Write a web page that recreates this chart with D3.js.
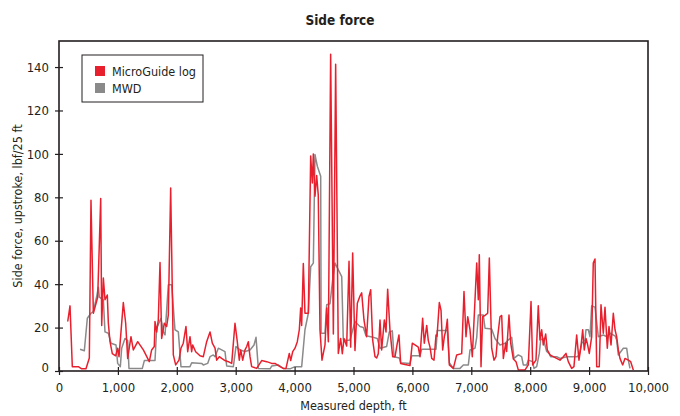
<!DOCTYPE html>
<html>
<head>
<meta charset="utf-8">
<script src="https://cdn.jsdelivr.net/npm/d3@7"></script>
<style>
  body { margin: 0; background: #fff; }
  svg { display: block; }
  text { font-family: "Liberation Sans Narrow", "DejaVu Sans Condensed", sans-serif; fill: #231f20; }
</style>
</head>
<body>
<svg id="chart"></svg>
<script>
// MicroGuide log (red): depth ft, side force lbf/25 ft
const logDepth = [148, 187, 226, 328, 385, 458, 515, 543, 583, 657, 708, 725, 753, 781, 820, 838, 866, 905, 962, 996,
  1019, 1092, 1132, 1166, 1222, 1262, 1336, 1432, 1533, 1573, 1618, 1630, 1658, 1686, 1715, 1743, 1788, 1828, 1856, 1896,
  1941, 1981, 2037, 2071, 2110, 2156, 2185, 2224, 2252, 2270, 2320, 2394, 2450, 2507, 2564, 2603, 2649, 2677, 2722, 2762,
  2818, 2875, 2932, 2988, 3027, 3061, 3085, 3119, 3158, 3187, 3214, 3243, 3271, 3356, 3441, 3526, 3611, 3667, 3752, 3808,
  3854, 3910, 3934, 3968, 4007, 4046, 4080, 4103, 4120, 4148, 4176, 4233, 4273, 4301, 4318, 4346, 4375, 4402, 4431, 4465,
  4516, 4545, 4573, 4612, 4658, 4697, 4742, 4782, 4810, 4839, 4884, 4924, 4952, 4986, 5025, 5065, 5110, 5139, 5178, 5223,
  5263, 5292, 5325, 5365, 5393, 5421, 5450, 5478, 5523, 5552, 5580, 5620, 5665, 5705, 5744, 5772, 5801, 5874, 5959, 5998,
  6044, 6100, 6129, 6174, 6202, 6243, 6270, 6299, 6328, 6367, 6401, 6418, 6457, 6486, 6514, 6542, 6570, 6593, 6627, 6695,
  6752, 6837, 6876, 6910, 6939, 6978, 7017, 7063, 7092, 7119, 7136, 7165, 7193, 7233, 7278, 7306, 7346, 7385, 7419, 7448,
  7487, 7516, 7544, 7584, 7600, 7640, 7669, 7714, 7759, 7798, 7912, 7968, 8014, 8042, 8098, 8137, 8166, 8195, 8222, 8263,
  8290, 8336, 8392, 8449, 8506, 8562, 8608, 8647, 8704, 8743, 8789, 8828, 8862, 8891, 8918, 8947, 8969, 9003, 9044, 9071,
  9100, 9129, 9173, 9202, 9241, 9270, 9309, 9338, 9372, 9411, 9440, 9468, 9496, 9524, 9570, 9609, 9666, 9706, 9751];
const logForce = [22.8, 30, 2, 2, 1, 1, 6, 78.6, 26.6, 34, 79.4, 21, 42.8, 32.8, 35, 22, 13.5, 8, 7, 10.5,
  6.6, 31.5, 22, 5.8, 15.8, 9.7, 13.5, 9.7, 4.3, 9.7, 11.3, 22.8, 18, 23.5, 50, 15, 22, 20.5, 25.8, 84.3,
  7.4, 2.8, 5, 10.5, 12.8, 20.5, 8.9, 15.8, 8.9, 12, 8.9, 7, 6.6, 13.5, 18, 12.8, 10.5, 5, 6.6, 5.8,
  4.8, 4.3, 3.5, 22, 13.5, 5, 9.7, 5, 9.7, 11.3, 13.5, 6.6, 2, 1.2, 4.8, 4.3, 3.5, 3.5, 2, 1.2,
  1.2, 8.1, 4.8, 8.9, 10.5, 13.5, 19, 29, 21, 49.5, 26.6, 26.6, 99, 86.6, 100, 80.5, 90, 81, 19, 5,
  12, 29, 13.5, 145.9, 17, 141.3, 8.1, 15, 8, 15, 11.5, 50.5, 11, 54.3, 9.4, 31.2, 34.5, 36, 23.5, 15.8,
  34.3, 37.4, 14.3, 6.6, 6, 8, 23.5, 9.7, 23.5, 18, 37.7, 18.5, 6.6, 6.6, 12.8, 16.6, 3.5, 3, 2.5, 12.8,
  12, 11, 6.6, 24.3, 12.8, 21, 14, 11, 5.8, 5, 16.6, 16, 31.5, 28, 9.7, 15.8, 19, 23.8, 2.8, 1.2,
  7.4, 8, 36.6, 15.8, 25, 19, 6.6, 32.8, 49.7, 32.8, 53.6, 2, 25, 25.6, 26.6, 52, 10.5, 5, 6.6, 15.8,
  25, 25.6, 5.8, 12.8, 9, 25.8, 12.8, 5.5, 4.3, 0.5, 0.5, 2.8, 32, 2.8, 5, 30, 14.3, 19, 12, 17,
  9.7, 7.4, 6.6, 5.8, 5, 6.6, 8.1, 4.3, 1.2, 2, 16.6, 5, 11.3, 19, 9.7, 15, 12.8, 8.1, 15.8, 49.7,
  51.6, 2, 2, 30.5, 17.4, 29.4, 10.5, 20.5, 12, 26.6, 19, 15.8, 9.7, 5.8, 2.8, 5.8, 5, 4.3, 0.5];

// MWD (gray)
const mwdDepth = [357, 430, 481, 543, 583, 640, 668, 685, 753, 781, 838, 883, 968, 996, 1041, 1064, 1120, 1166, 1188, 1415,
  1449, 1630, 1658, 1732, 1771, 1800, 1856, 1913, 1969, 2026, 2071, 2224, 2253, 2422, 2450, 2524, 2564, 2620, 2649, 2705,
  2762, 2818, 2847, 2960, 3005, 3073, 3158, 3243, 3311, 3345, 3384, 3583, 3611, 3723, 3808, 3922, 4007, 4120, 4176, 4233,
  4273, 4318, 4346, 4386, 4443, 4450, 4516, 4545, 4601, 4646, 4686, 4800, 4827, 4884, 4941, 5025, 5110, 5167, 5212, 5336,
  5404, 5450, 5563, 5608, 5659, 5688, 5778, 5801, 5959, 5988, 6129, 6157, 6401, 6423, 6593, 6627, 6695, 6808, 6865, 6950,
  6978, 7063, 7092, 7119, 7204, 7233, 7346, 7402, 7487, 7572, 7629, 7686, 7725, 7798, 7855, 7883, 7940, 7968, 8042, 8064,
  8110, 8154, 8178, 8222, 8280, 8324, 8347, 8449, 8506, 8619, 8800, 8834, 8875, 8930, 8947, 8987, 9015, 9044, 9100, 9156,
  9241, 9298, 9355, 9440, 9468, 9496, 9581, 9638, 9666, 9694];
const mwdForce = [10, 9.3, 24.3, 26.6, 27.4, 34.3, 38.6, 34, 32.8, 18, 17.4, 12.8, 12, 3.5, 2, 10.5, 15, 14, 1.2, 1.2,
  4.8, 4.8, 19.7, 24.3, 18, 16.6, 39.7, 39.7, 19, 18, 2, 2, 3.8, 3.5, 2.8, 3.5, 6.6, 7.4, 6.6, 10.5,
  9.7, 8.9, 2.3, 2, 11.3, 9.7, 9, 9.7, 12, 15.5, 1.2, 1, 2.3, 2.8, 1.2, 1, 2, 2, 19, 26.6,
  48, 49.7, 99.7, 94.3, 89.7, 17.4, 17.4, 30.5, 31, 42, 49.7, 43.5, 14.3, 14, 14.3, 22.8, 20.5, 20, 16.2, 15.5,
  15, 10.5, 11.3, 18, 18.5, 6.6, 6, 3.8, 3.5, 7, 7, 10, 10, 18.6, 18.6, 3.8, 1.2, 1.2, 2.8, 2.8,
  9.7, 10.5, 15.5, 25.8, 25.8, 19.7, 19.4, 15, 12, 12.8, 14.3, 15.5, 5.8, 7.4, 6.6, 2.8, 2.8, 5, 4.3, 1.2,
  2, 8.1, 14.3, 15, 9, 8, 6.6, 6.6, 5.8, 6.6, 6.6, 7.4, 12.8, 14.3, 19, 19, 15.8, 30, 29.4, 15.8,
  16.6, 15.8, 17.4, 16.2, 14.3, 7.4, 10.5, 10.5, 5, 1.2];

const xTicks = [0, 1000, 2000, 3000, 4000, 5000, 6000, 7000, 8000, 9000, 10000];
const yTicks = [0, 20, 40, 60, 80, 100, 120, 140];
const legendItems = [
  { label: 'MicroGuide log', color: '#e8202e' },
  { label: 'MWD', color: '#8a8a8a' }
];

const width = 680, height = 416;
const margin = { top: 41, right: 32, bottom: 45, left: 59 };
const innerW = width - margin.left - margin.right;
const innerH = height - margin.top - margin.bottom;

const svg = d3.select('#chart').attr('width', width).attr('height', height);

const x = d3.scaleLinear().domain([0, 10000]).range([0, innerW]);
const y = d3.scaleLinear().domain([0, 152]).range([innerH, 0]);

const g = svg.append('g').attr('transform', `translate(${margin.left},${margin.top})`);

const line = d3.line().x(d => x(d[0])).y(d => y(d[1]));
const mwd = d3.zip(mwdDepth, mwdForce);
const log = d3.zip(logDepth, logForce);

g.append('path')
  .attr('d', line(mwd))
  .attr('fill', 'none')
  .attr('stroke', legendItems[1].color)
  .attr('stroke-width', 1.5)
  .attr('stroke-linejoin', 'round');

g.append('path')
  .attr('d', line(log))
  .attr('fill', 'none')
  .attr('stroke', legendItems[0].color)
  .attr('stroke-width', 1.5)
  .attr('stroke-linejoin', 'round');

// frame
g.append('rect')
  .attr('width', innerW)
  .attr('height', innerH)
  .attr('fill', 'none')
  .attr('stroke', '#231f20')
  .attr('stroke-width', 1.6);

const fmt = d3.format(',');

const xAxis = g.append('g')
  .attr('transform', `translate(0,${innerH})`)
  .call(d3.axisBottom(x).tickValues(xTicks).tickFormat(fmt).tickSize(4).tickPadding(8));
xAxis.select('.domain').remove();
xAxis.selectAll('.tick line').attr('y1', -4).attr('stroke', '#231f20').attr('stroke-width', 1.2);
xAxis.selectAll('.tick text').attr('font-size', '13px').attr('dy', '0.72em').attr('fill', '#231f20');

const yAxis = g.append('g')
  .call(d3.axisLeft(y).tickValues(yTicks).tickSize(4).tickPadding(6));
yAxis.select('.domain').remove();
yAxis.selectAll('.tick line').attr('x1', 4).attr('stroke', '#231f20').attr('stroke-width', 1.2);
yAxis.selectAll('.tick text').attr('font-size', '13px').attr('fill', '#231f20');
yAxis.selectAll('.tick').filter(d => d === 0).select('text').attr('dy', '0.05em');

// legend
const lg = g.append('g').attr('transform', 'translate(23,14)');
lg.append('rect')
  .attr('width', 121)
  .attr('height', 47)
  .attr('fill', '#fff')
  .attr('stroke', '#231f20')
  .attr('stroke-width', 1);
legendItems.forEach((d, i) => {
  lg.append('rect')
    .attr('x', 13).attr('y', 11 + i * 17)
    .attr('width', 10).attr('height', 10)
    .attr('fill', d.color);
  lg.append('text')
    .attr('x', 30).attr('y', 20.5 + i * 17)
    .attr('font-size', '12.5px')
    .text(d.label);
});

// titles
svg.append('text')
  .attr('x', 340).attr('y', 25)
  .attr('text-anchor', 'middle')
  .attr('font-size', '13.5px')
  .attr('font-weight', 'bold')
  .text('Side force');

svg.append('text')
  .attr('x', margin.left + innerW / 2).attr('y', 410)
  .attr('text-anchor', 'middle')
  .attr('font-size', '12.5px')
  .text('Measured depth, ft');

svg.append('text')
  .attr('transform', `translate(22,${margin.top + innerH / 2}) rotate(-90)`)
  .attr('text-anchor', 'middle')
  .attr('font-size', '12.5px')
  .text('Side force, upstroke, lbf/25 ft');
</script>
</body>
</html>
